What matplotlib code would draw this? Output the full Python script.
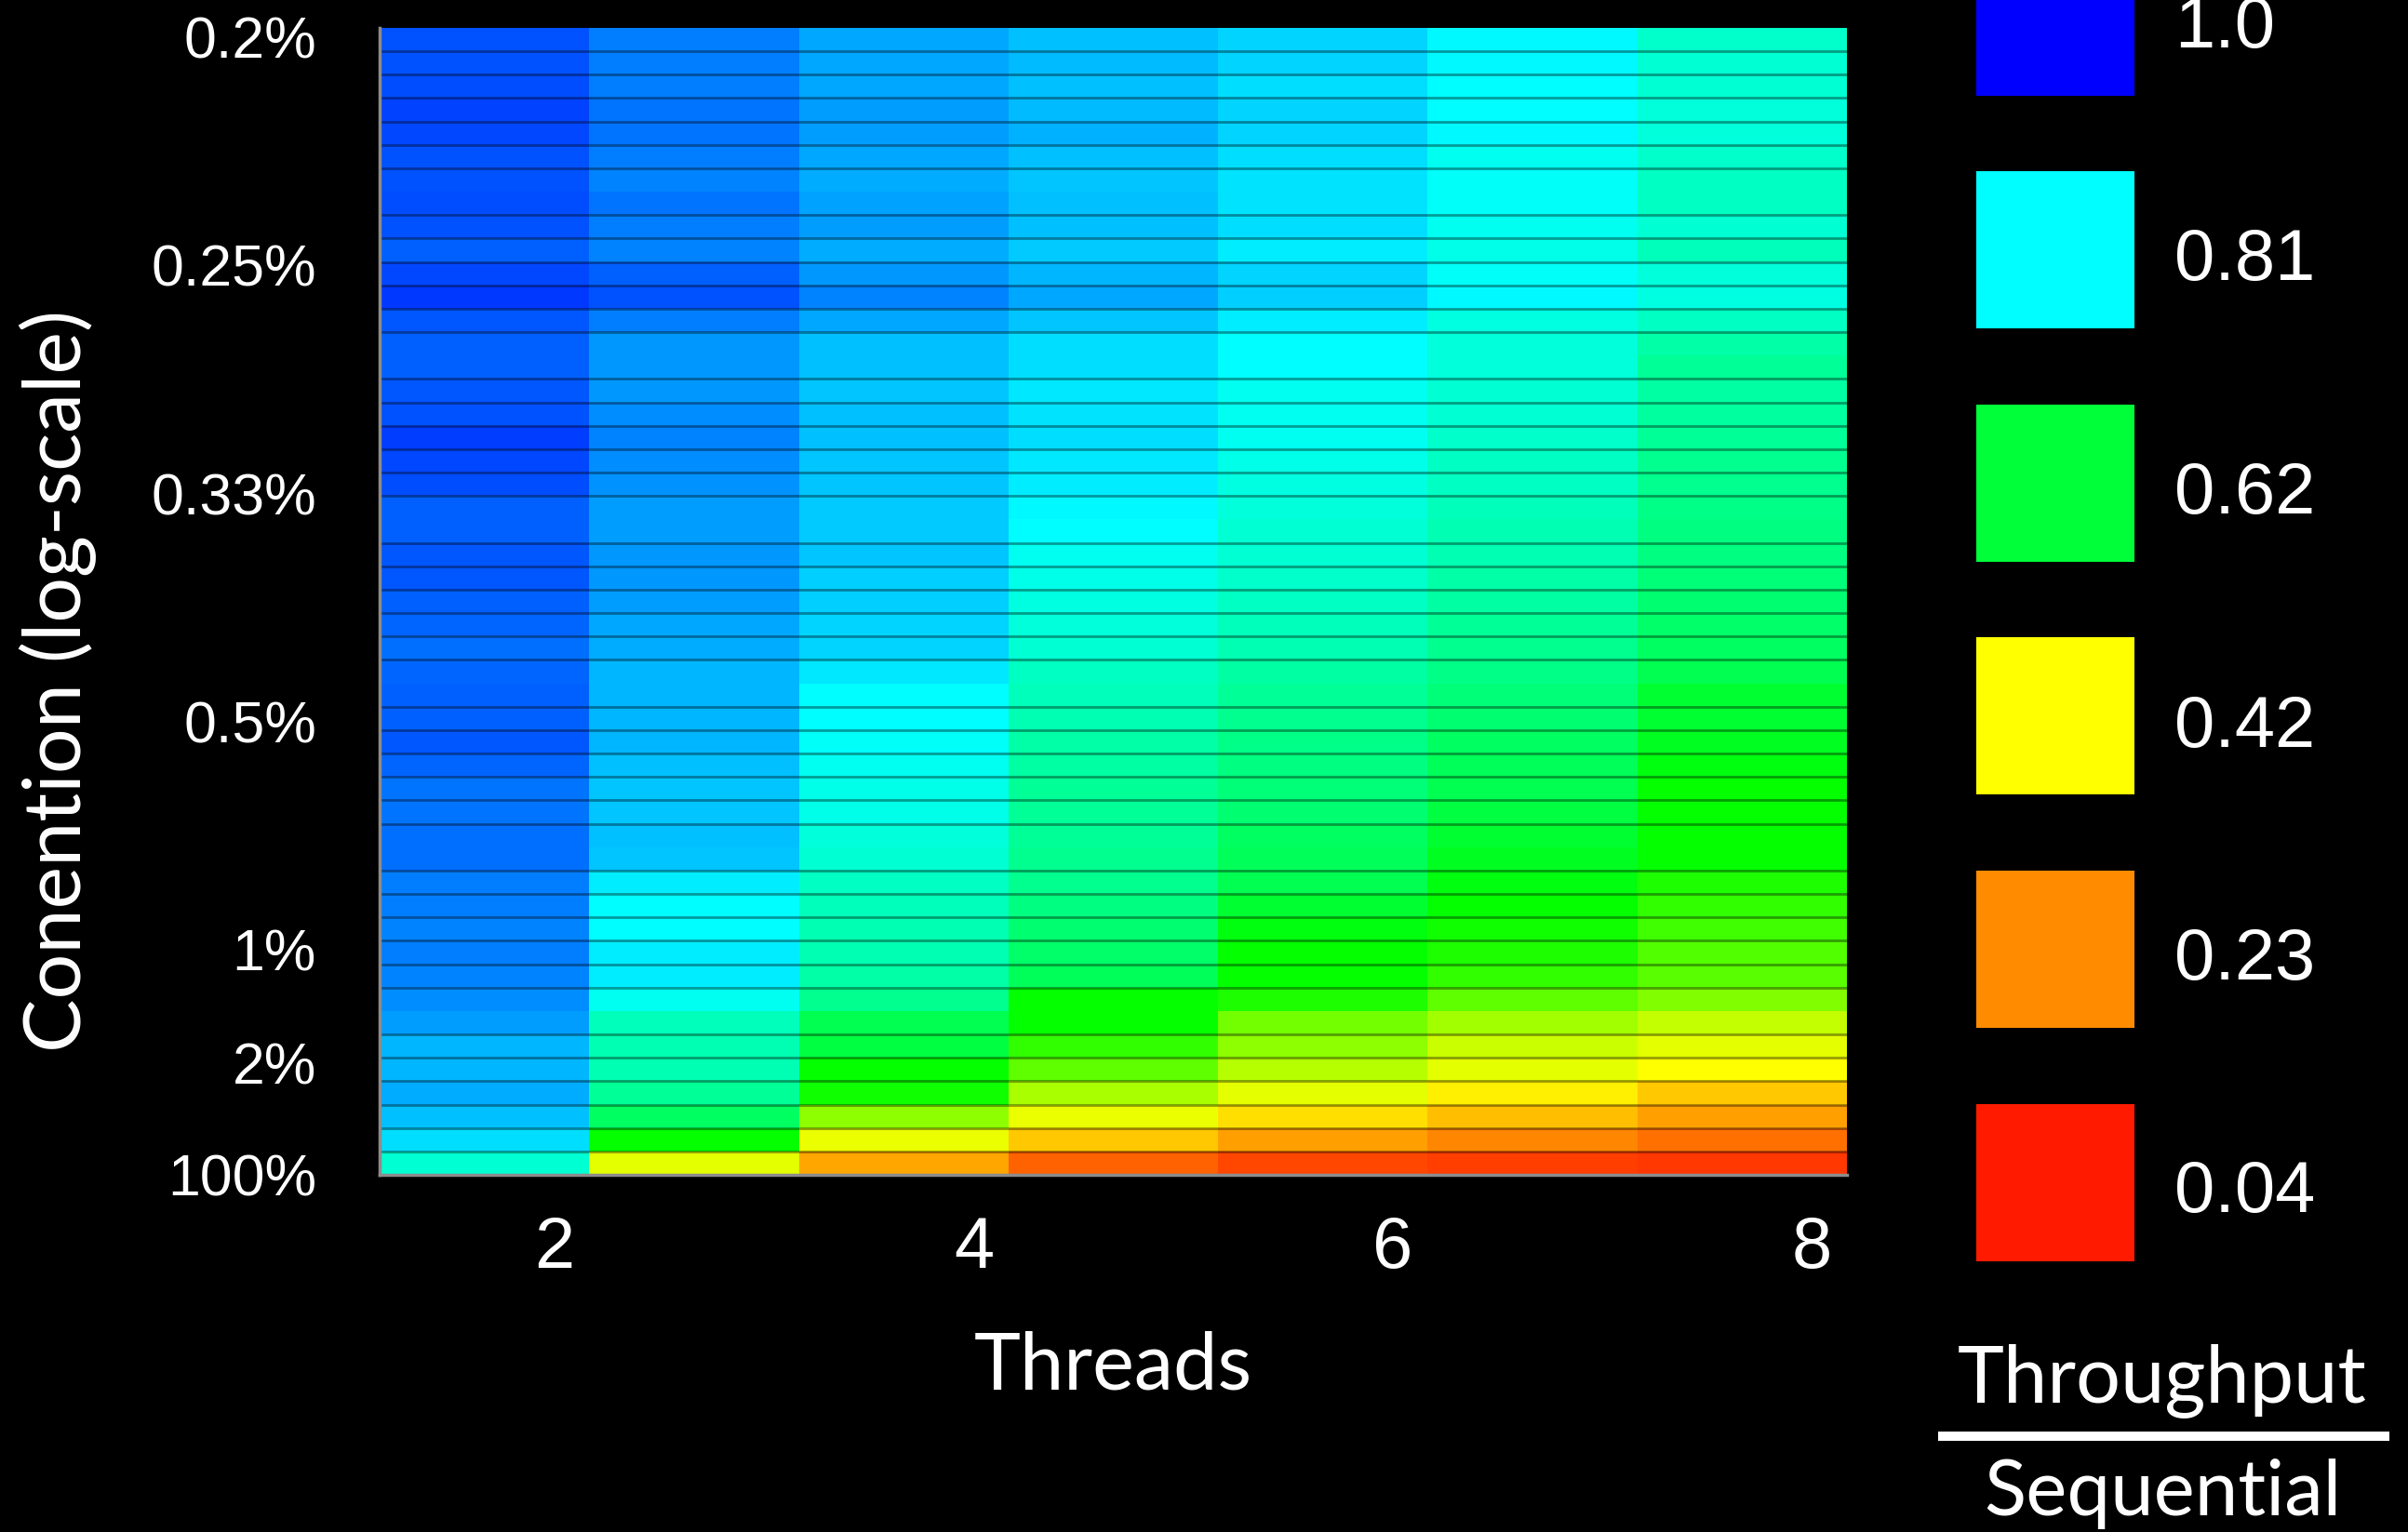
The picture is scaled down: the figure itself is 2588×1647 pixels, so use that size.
import numpy as np
import matplotlib
matplotlib.use("Agg")
import matplotlib.pyplot as plt
from matplotlib.colors import LinearSegmentedColormap, Normalize
from matplotlib.lines import Line2D

# ---------------- data ----------------
threads = np.array([2, 3, 4, 5, 6, 7, 8])
xtick_threads = [2, 4, 6, 8]

# contention axis expressed as 1/contention (operations per conflict)
contention_ticks = [500, 400, 300, 200, 100, 50, 1]
contention_labels = ["0.2%", "0.25%", "0.33%", "0.5%", "1%", "2%", "100%"]
inv_contention_top = 504
inv_contention_bottom = 1

legend_levels = [1.0, 0.81, 0.62, 0.42, 0.23, 0.04]
legend_labels = ["1.0", "0.81", "0.62", "0.42", "0.23", "0.04"]

# throughput / sequential, rows from lowest contention (top) to highest (bottom)
throughput = np.array([
    [0.940, 0.905, 0.875, 0.857, 0.839, 0.815, 0.757],
    [0.940, 0.905, 0.875, 0.860, 0.839, 0.815, 0.765],
    [0.943, 0.905, 0.875, 0.854, 0.833, 0.810, 0.765],
    [0.949, 0.911, 0.881, 0.860, 0.839, 0.810, 0.773],
    [0.946, 0.911, 0.881, 0.866, 0.839, 0.815, 0.773],
    [0.940, 0.905, 0.875, 0.854, 0.833, 0.796, 0.757],
    [0.940, 0.902, 0.872, 0.851, 0.830, 0.803, 0.750],
    [0.943, 0.911, 0.878, 0.854, 0.830, 0.803, 0.750],
    [0.940, 0.905, 0.881, 0.857, 0.833, 0.796, 0.765],
    [0.928, 0.899, 0.869, 0.848, 0.821, 0.788, 0.742],
    [0.946, 0.928, 0.887, 0.863, 0.839, 0.803, 0.773],
    [0.958, 0.940, 0.899, 0.875, 0.845, 0.815, 0.780],
    [0.934, 0.905, 0.875, 0.851, 0.821, 0.780, 0.750],
    [0.928, 0.887, 0.857, 0.833, 0.810, 0.773, 0.726],
    [0.928, 0.887, 0.857, 0.833, 0.810, 0.773, 0.711],
    [0.934, 0.887, 0.851, 0.827, 0.796, 0.765, 0.719],
    [0.940, 0.893, 0.854, 0.830, 0.796, 0.765, 0.715],
    [0.952, 0.899, 0.857, 0.833, 0.796, 0.757, 0.711],
    [0.946, 0.893, 0.851, 0.827, 0.788, 0.750, 0.703],
    [0.943, 0.890, 0.851, 0.821, 0.780, 0.750, 0.703],
    [0.928, 0.881, 0.848, 0.815, 0.773, 0.742, 0.696],
    [0.928, 0.881, 0.848, 0.810, 0.765, 0.734, 0.688],
    [0.934, 0.887, 0.851, 0.796, 0.765, 0.734, 0.688],
    [0.934, 0.884, 0.845, 0.788, 0.757, 0.726, 0.680],
    [0.928, 0.881, 0.845, 0.780, 0.750, 0.719, 0.673],
    [0.922, 0.875, 0.842, 0.773, 0.742, 0.711, 0.665],
    [0.917, 0.869, 0.839, 0.765, 0.734, 0.703, 0.657],
    [0.922, 0.863, 0.827, 0.750, 0.719, 0.696, 0.642],
    [0.928, 0.863, 0.810, 0.742, 0.711, 0.680, 0.611],
    [0.928, 0.863, 0.810, 0.734, 0.703, 0.673, 0.611],
    [0.934, 0.863, 0.803, 0.726, 0.696, 0.657, 0.596],
    [0.922, 0.857, 0.796, 0.719, 0.688, 0.650, 0.580],
    [0.911, 0.851, 0.788, 0.711, 0.680, 0.642, 0.565],
    [0.911, 0.851, 0.788, 0.711, 0.673, 0.627, 0.565],
    [0.917, 0.857, 0.773, 0.711, 0.657, 0.611, 0.565],
    [0.917, 0.851, 0.765, 0.703, 0.650, 0.596, 0.565],
    [0.905, 0.821, 0.750, 0.703, 0.642, 0.580, 0.547],
    [0.905, 0.810, 0.742, 0.688, 0.611, 0.565, 0.538],
    [0.899, 0.810, 0.734, 0.673, 0.580, 0.556, 0.529],
    [0.905, 0.821, 0.734, 0.665, 0.565, 0.547, 0.519],
    [0.899, 0.821, 0.726, 0.650, 0.565, 0.538, 0.515],
    [0.893, 0.796, 0.703, 0.565, 0.547, 0.510, 0.492],
    [0.881, 0.742, 0.642, 0.565, 0.501, 0.474, 0.456],
    [0.863, 0.734, 0.627, 0.538, 0.483, 0.451, 0.437],
    [0.863, 0.734, 0.565, 0.510, 0.460, 0.437, 0.420],
    [0.869, 0.711, 0.556, 0.469, 0.437, 0.395, 0.329],
    [0.857, 0.657, 0.483, 0.433, 0.369, 0.316, 0.263],
    [0.833, 0.565, 0.433, 0.329, 0.263, 0.223, 0.183],
    [0.765, 0.437, 0.276, 0.163, 0.117, 0.103, 0.090],
])

# ---------------- colormap ----------------
vmin, vmax = 0.04, 1.0
anchors = [(0.04, "#ff1a00"), (0.23, "#ff8c00"), (0.42, "#ffff00"),
           (0.565, "#00ff00"), (0.81, "#00ffff"), (1.0, "#0000ff")]
cmap = LinearSegmentedColormap.from_list(
    "tp", [((v - vmin) / (vmax - vmin), c) for v, c in anchors])
norm = Normalize(vmin=vmin, vmax=vmax)

# ---------------- figure ----------------
W, H, DPI = 2588, 1647, 100
fig = plt.figure(figsize=(W / DPI, H / DPI), dpi=DPI, facecolor="black")

def px_rect(x0, y0, x1, y1):
    return [x0 / W, 1 - y1 / H, (x1 - x0) / W, (y1 - y0) / H]

ax = fig.add_axes(px_rect(408, 30, 1985, 1263))
ax.set_facecolor("black")

n_rows = throughput.shape[0]
y_edges = np.linspace(inv_contention_top, inv_contention_bottom, n_rows + 1)
x_edges = np.append(threads, threads[-1] + 1) - 0.834

ax.pcolormesh(x_edges, y_edges, throughput, cmap=cmap, norm=norm,
              shading="flat", antialiased=False)

# thin dark separators between rows
for k in range(1, n_rows):
    if k % 7 == 0:
        continue
    ax.axhline(y_edges[k], color="black", alpha=0.38, lw=2.0, zorder=3)

ax.set_xlim(x_edges[0], x_edges[-1])
ax.set_ylim(inv_contention_bottom, inv_contention_top)

for side in ("top", "right"):
    ax.spines[side].set_visible(False)
for side in ("left", "bottom"):
    ax.spines[side].set_color("#8c8c8c")
    ax.spines[side].set_linewidth(2.5)
    ax.spines[side].set_zorder(4)

ax.set_xticks(xtick_threads)
ax.set_xticklabels([str(t) for t in xtick_threads],
                   fontfamily="Liberation Sans", fontsize=56, color="white")
ax.set_yticks(contention_ticks)
ax.set_yticklabels(contention_labels,
                   fontfamily="Liberation Sans", fontsize=45, color="white")
ax.tick_params(axis="x", length=0, pad=31)
ax.tick_params(axis="y", length=0, pad=49)

# axis titles
fig.text(1196 / W, 1 - 1493 / H, "Threads", fontfamily="Lato", fontsize=61,
         color="white", ha="center", va="baseline")
fig.text(87 / W, 1 - 732 / H, "Conention (log-scale)", fontfamily="Lato",
         fontsize=62, color="white", ha="center", va="baseline",
         rotation=90, rotation_mode="anchor")

# ---------------- discrete legend ----------------
slot = 250.5
sq = 169.0
n_lv = len(legend_levels)
top_px = -66
bot_px = top_px + (n_lv - 1) * slot + sq
cax = fig.add_axes(px_rect(2124, top_px, 2294, bot_px))
cax.set_facecolor("none")
cax.axis("off")
span = bot_px - top_px
cax.set_xlim(0, 1)
cax.set_ylim(span, 0)
for i, (lv, lab) in enumerate(zip(legend_levels, legend_labels)):
    y0 = i * slot
    cax.bar(0.5, sq, bottom=y0, width=1.0, color=cmap(norm(lv)),
            edgecolor="none")
    cax.text(1.0 + 43 / 170, y0 + sq / 2 + 12, lab, fontfamily="Liberation Sans",
             fontsize=56, color="white", ha="left", va="center",
             clip_on=False)

fig.text(2324 / W, 1 - 1507 / H, "Throughput", fontfamily="Lato", fontsize=61,
         color="white", ha="center", va="baseline")
fig.add_artist(Line2D([2083 / W, 2568 / W], [1 - 1544 / H, 1 - 1544 / H],
                      color="white", lw=7.2, solid_capstyle="butt",
                      transform=fig.transFigure))
fig.text(2324 / W, 1 - 1629 / H, "Sequential", fontfamily="Lato", fontsize=60,
         color="white", ha="center", va="baseline")

fig.savefig("out.png", dpi=DPI, facecolor="black")
